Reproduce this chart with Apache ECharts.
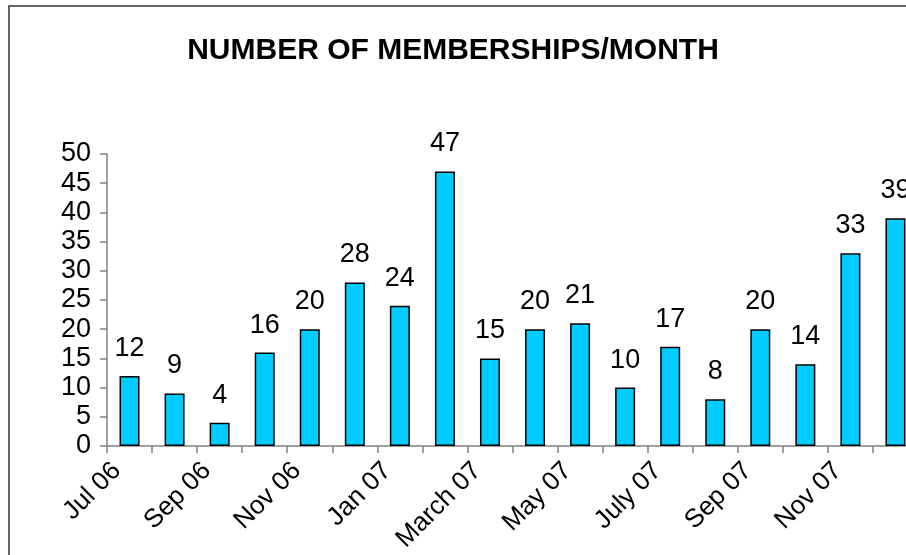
<!DOCTYPE html>
<html><head><meta charset="utf-8">
<script src="https://cdn.jsdelivr.net/npm/echarts@6/dist/echarts.min.js"></script>
<style>html,body{margin:0;padding:0;background:#fff;}#c{width:906px;height:555px;}</style>
</head><body><div id="c"></div>
<script>
const categories = ["Jul 06","Aug 06","Sep 06","Oct 06","Nov 06","Dec 06","Jan 07","Feb 07","March 07","April 07","May 07","June 07","July 07","Aug 07","Sep 07","Oct 07","Nov 07","Dec 07"];
const memberships = [12, 9, 4, 16, 20, 28, 24, 47, 15, 20, 21, 10, 17, 8, 20, 14, 33, 39];
const yTicks = {min: 0, max: 50, interval: 5};
const titleText = "NUMBER OF MEMBERSHIPS/MONTH";

const chart = echarts.init(document.getElementById('c'), null, {renderer: 'canvas'});
const FONT = "'Liberation Sans', Arial, sans-serif";
chart.setOption({
  animation: false,
  backgroundColor: '#fff',
  title: {
    text: titleText, left: 'center', top: 31,
    textStyle: {fontFamily: FONT, fontSize: 30, fontWeight: 'bold', color: '#000'}
  },
  graphic: [{
    type: 'rect', silent: true, z: 100,
    shape: {x: 9, y: 6, width: 960, height: 600},
    style: {fill: 'none', stroke: '#333', lineWidth: 1.5}
  }],
  grid: {left: 107, top: 154, width: 811, height: 292, containLabel: false, outerBoundsMode: 'none'},
  xAxis: {
    type: 'category', data: categories, boundaryGap: true,
    axisLine: {lineStyle: {color: '#808080', width: 1.5}},
    axisTick: {show: true, interval: 0, length: 7, lineStyle: {color: '#808080', width: 1.5}},
    axisLabel: {interval: 1, rotate: 45, margin: 8, padding: [0, 18, 0, 0], fontFamily: FONT, fontSize: 26, color: '#000'}
  },
  yAxis: {
    type: 'value', min: yTicks.min, max: yTicks.max, interval: yTicks.interval,
    splitLine: {show: false},
    axisLine: {show: true, lineStyle: {color: '#808080', width: 1.5}},
    axisTick: {show: true, length: 7, lineStyle: {color: '#808080', width: 1.5}},
    axisLabel: {margin: 16, fontFamily: FONT, fontSize: 27, color: '#000'}
  },
  series: [{
    type: 'bar', data: memberships, barWidth: 20,
    itemStyle: {color: '#00CCFF', borderColor: '#000', borderWidth: 1.5},
    label: {show: true, position: 'top', distance: 14, fontFamily: FONT, fontSize: 27, color: '#000'}
  }]
});
</script></body></html>
